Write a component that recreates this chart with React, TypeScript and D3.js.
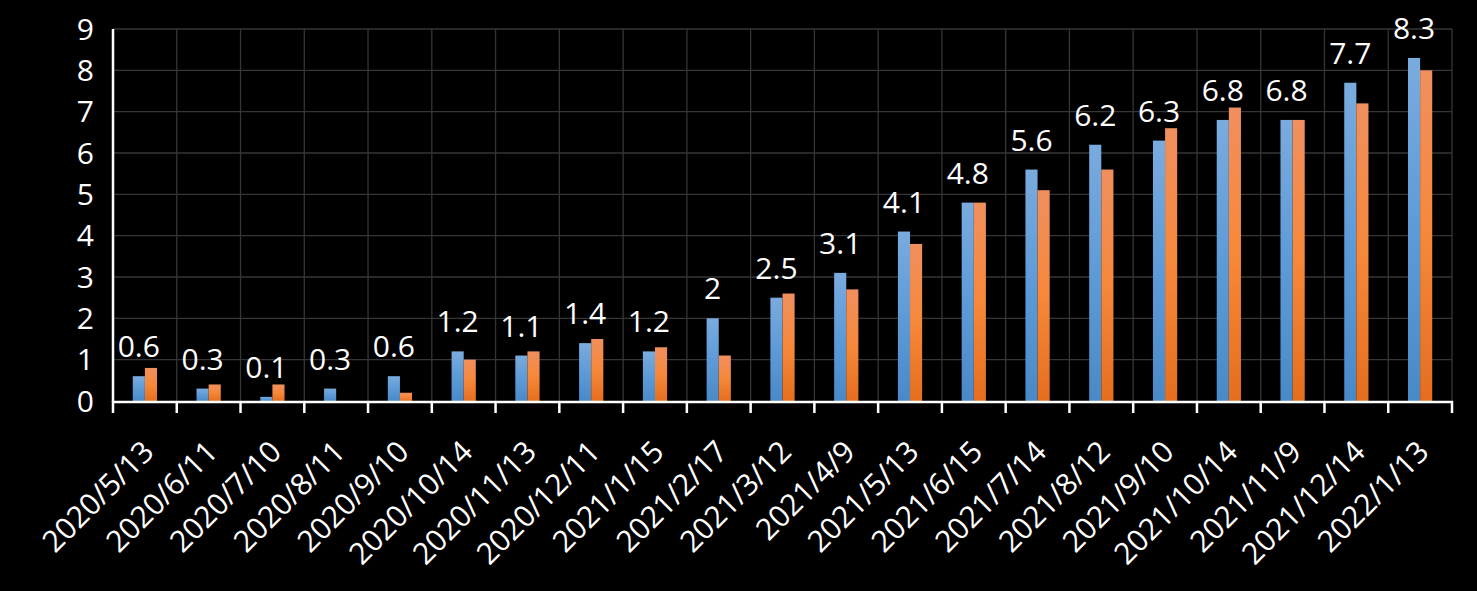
import React from "react";
import * as d3 from "d3";

const categories = [
  "2020/5/13", "2020/6/11", "2020/7/10", "2020/8/11", "2020/9/10", "2020/10/14",
  "2020/11/13", "2020/12/11", "2021/1/15", "2021/2/17", "2021/3/12", "2021/4/9",
  "2021/5/13", "2021/6/15", "2021/7/14", "2021/8/12", "2021/9/10", "2021/10/14",
  "2021/11/9", "2021/12/14", "2022/1/13",
];
const blueValues = [0.6, 0.3, 0.1, 0.3, 0.6, 1.2, 1.1, 1.4, 1.2, 2, 2.5, 3.1, 4.1, 4.8, 5.6, 6.2, 6.3, 6.8, 6.8, 7.7, 8.3];
const orangeValues = [0.8, 0.4, 0.4, 0, 0.2, 1.0, 1.2, 1.5, 1.3, 1.1, 2.6, 2.7, 3.8, 4.8, 5.1, 5.6, 6.6, 7.1, 6.8, 7.2, 8.0];
const yTicks = [0, 1, 2, 3, 4, 5, 6, 7, 8, 9];

const W = 1477;
const H = 591;
const left = 113;
const right = 1452;
const top = 29;
const bottom = 401;
const FONT = "'Open Sans', 'Noto Sans', sans-serif";
const FS = 30;

export default function App() {
  const x = d3.scaleBand<string>().domain(categories).range([left, right]).paddingInner(0).paddingOuter(0);
  const y = d3.scaleLinear().domain([0, 9]).range([bottom, top]);
  const bw = x.bandwidth();
  const barW = bw * 0.19;

  return (
    <div style={{ position: "fixed", left: 0, top: 0, width: W, height: H, background: "#000" }}>
      <svg width={W} height={H} style={{ display: "block", background: "#000" }}>
        <defs>
          <linearGradient id="gBlue" x1="0" y1="0" x2="0" y2="1">
            <stop offset="0%" stopColor="#7aabde" />
            <stop offset="50%" stopColor="#5d9bd8" />
            <stop offset="100%" stopColor="#4a89c8" />
          </linearGradient>
          <linearGradient id="gOrange" x1="0" y1="0" x2="0" y2="1">
            <stop offset="0%" stopColor="#f08f5e" />
            <stop offset="50%" stopColor="#f6883a" />
            <stop offset="100%" stopColor="#e56e1e" />
          </linearGradient>
        </defs>
        {yTicks.filter((t) => t > 0).map((t) => (
          <line key={"h" + t} x1={left} x2={right} y1={y(t)} y2={y(t)} stroke="#363636" strokeWidth={1.3} />
        ))}
        {categories.map((c, i) => (
          <line key={"v" + i} x1={(x(c) as number) + bw} x2={(x(c) as number) + bw} y1={top} y2={bottom} stroke="#363636" strokeWidth={1.3} />
        ))}
        {categories.map((c, i) => {
          const cx = (x(c) as number) + bw / 2;
          return (
            <g key={"b" + i}>
              {blueValues[i] > 0 && (
                <rect x={cx - barW} y={y(blueValues[i])} width={barW} height={bottom - y(blueValues[i])} fill="url(#gBlue)" />
              )}
              {orangeValues[i] > 0 && (
                <rect x={cx} y={y(orangeValues[i])} width={barW} height={bottom - y(orangeValues[i])} fill="url(#gOrange)" />
              )}
              <text
                x={cx - barW / 2}
                y={y(blueValues[i]) - 19}
                fill="#fff"
                fontSize={FS}
                fontFamily={FONT}
                textAnchor="middle"
              >
                {String(blueValues[i])}
              </text>
            </g>
          );
        })}
        <line x1={left} x2={left} y1={top} y2={bottom + 1} stroke="#fff" strokeWidth={2.5} />
        <line x1={left - 1} x2={right + 1} y1={bottom + 1} y2={bottom + 1} stroke="#fff" strokeWidth={2.5} />
        {categories.map((c, i) => (
          <line key={"t" + i} x1={x(c) as number} x2={x(c) as number} y1={bottom} y2={bottom + 12} stroke="#fff" strokeWidth={2.5} />
        ))}
        <line x1={right} x2={right} y1={bottom} y2={bottom + 12} stroke="#fff" strokeWidth={2.5} />
        {yTicks.map((t) => (
          <text key={"y" + t} x={94} y={y(t)} dy="0.36em" fill="#fff" fontSize={FS} fontFamily={FONT} textAnchor="end">
            {t}
          </text>
        ))}
        {categories.map((c, i) => {
          const cx = (x(c) as number) + bw / 2 + 3;
          const ty = 446;
          return (
            <text
              key={"x" + i}
              x={cx}
              y={ty}
              dy="0.36em"
              fill="#fff"
              fontSize={FS}
              fontFamily={FONT}
              textAnchor="end"
              transform={`rotate(-45, ${cx}, ${ty})`}
            >
              {c}
            </text>
          );
        })}
      </svg>
    </div>
  );
}
